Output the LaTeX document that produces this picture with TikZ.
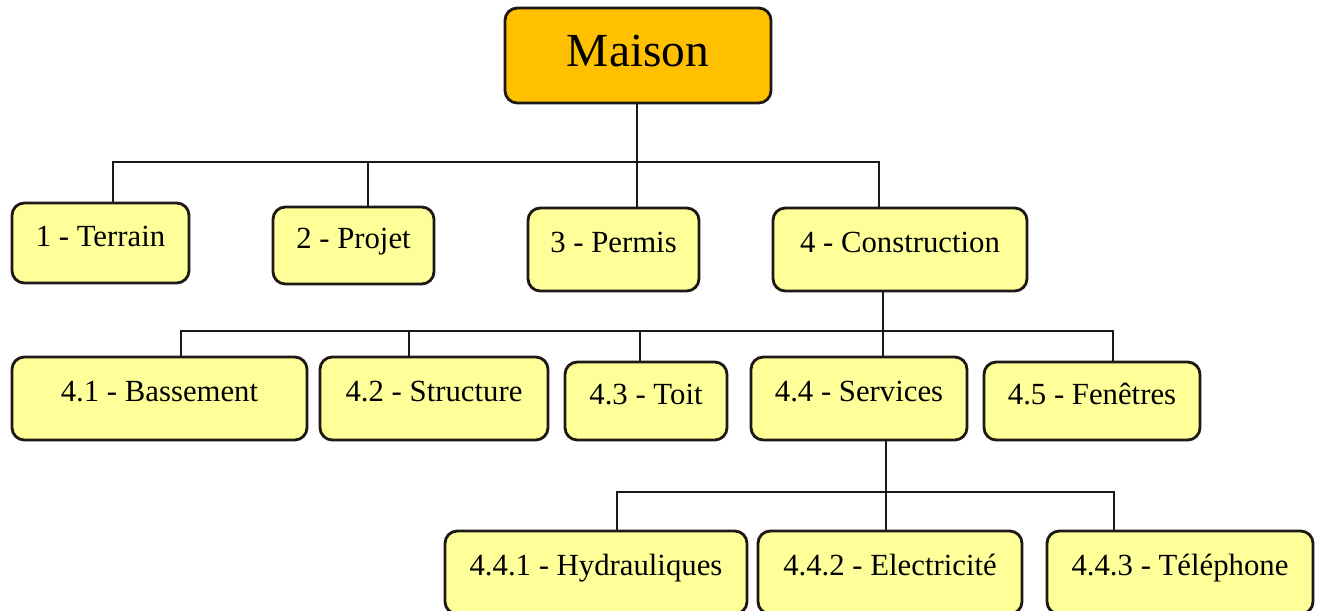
\documentclass[tikz,border=0pt]{standalone}
\usepackage{fontspec}
\setmainfont{Liberation Serif}
\usepackage{tikz}
\usetikzlibrary{positioning, calc}

\definecolor{jaunepale}{RGB}{255,255,153}
\definecolor{orangeracine}{RGB}{255,192,0}
\definecolor{bordsombre}{RGB}{30,25,20}

\begin{document}
\begin{tikzpicture}[
  boite/.style={draw=bordsombre, line width=1.6pt, fill=jaunepale,
    rounded corners=7pt, inner sep=0pt,
    font=\fontsize{17.5}{20}\selectfont, text height=13pt, text depth=9.5pt},
  racine/.style={boite, fill=orangeracine,
    font=\fontsize{27}{30}\selectfont, text height=20pt, text depth=8pt},
  lien/.style={line width=1.3pt, black!90}
]

  % --- Cadre ---
  \useasboundingbox (0,0) rectangle (26.46,-12.2);

  % --- Racine ---
  \node[racine, minimum width=5.32cm, minimum height=1.9cm]
    (maison) at (12.76,-1.11) {Maison};

  % --- Niveau 1 ---
  \node[boite, minimum width=3.54cm, minimum height=1.6cm]
    (terrain) at (2.01,-4.86) {1 - Terrain};
  \node[boite, minimum width=3.22cm, minimum height=1.54cm]
    (projet) at (7.07,-4.91) {2 - Projet};
  \node[boite, minimum width=3.42cm, minimum height=1.66cm]
    (permis) at (12.27,-4.99) {3 - Permis};
  \node[boite, minimum width=5.08cm, minimum height=1.66cm]
    (construction) at (18.0,-4.99) {4 - Construction};

  % --- Niveau 2 ---
  \node[boite, minimum width=5.9cm, minimum height=1.66cm]
    (bassement) at (3.19,-7.97) {4.1 - Bassement};
  \node[boite, minimum width=4.56cm, minimum height=1.66cm]
    (structure) at (8.68,-7.97) {4.2 - Structure};
  \node[boite, minimum width=3.24cm, minimum height=1.56cm]
    (toit) at (12.92,-8.02) {4.3 - Toit};
  \node[boite, minimum width=4.32cm, minimum height=1.66cm]
    (services) at (17.18,-7.97) {4.4 - Services};
  \node[boite, minimum width=4.32cm, minimum height=1.56cm]
    (fenetres) at (21.84,-8.02) {4.5 - Fenêtres};

  % --- Niveau 3 ---
  \node[boite, minimum width=6.04cm, minimum height=1.66cm]
    (hydrau) at (11.92,-11.45) {4.4.1 - Hydrauliques};
  \node[boite, minimum width=5.28cm, minimum height=1.66cm]
    (electricite) at (17.8,-11.45) {4.4.2 - Electricité};
  \node[boite, minimum width=5.32cm, minimum height=1.66cm]
    (telephone) at (23.6,-11.45) {4.4.3 - Téléphone};

  % --- Barres horizontales ---
  \coordinate (bus1) at (0,-3.24);
  \coordinate (bus2) at (0,-6.62);
  \coordinate (bus3) at (0,-9.84);

  % --- Liens niveau 1 ---
  \coordinate (p1) at ([xshift=.25cm]terrain.north);
  \coordinate (p2) at ([xshift=.29cm]projet.north);
  \coordinate (p3) at ([xshift=.47cm]permis.north);
  \coordinate (p4) at ([xshift=-.42cm]construction.north);
  \draw[lien] (p3 |- maison.south) -- (p3);
  \draw[lien] (p1) -- (p1 |- bus1) -- (p4 |- bus1) -- (p4);
  \draw[lien] (p2) -- (p2 |- bus1);

  % --- Liens niveau 2 ---
  \coordinate (q1) at ([xshift=.43cm]bassement.north);
  \coordinate (q2) at ([xshift=-.5cm]structure.north);
  \coordinate (q3) at ([xshift=-.12cm]toit.north);
  \coordinate (q4) at ([xshift=.48cm]services.north);
  \coordinate (q5) at ([xshift=.42cm]fenetres.north);
  \draw[lien] (q4 |- construction.south) -- (q4);
  \draw[lien] (q1) -- (q1 |- bus2) -- (q5 |- bus2) -- (q5);
  \foreach \q in {q2,q3}{
    \draw[lien] (\q) -- (\q |- bus2);
  }

  % --- Liens niveau 3 ---
  \coordinate (r1) at ([xshift=.42cm]hydrau.north);
  \coordinate (r2) at ([xshift=-.08cm]electricite.north);
  \coordinate (r3) at ([xshift=-1.32cm]telephone.north);
  \draw[lien] (r2 |- services.south) -- (r2);
  \draw[lien] (r1) -- (r1 |- bus3) -- (r3 |- bus3) -- (r3);

\end{tikzpicture}
\end{document}
